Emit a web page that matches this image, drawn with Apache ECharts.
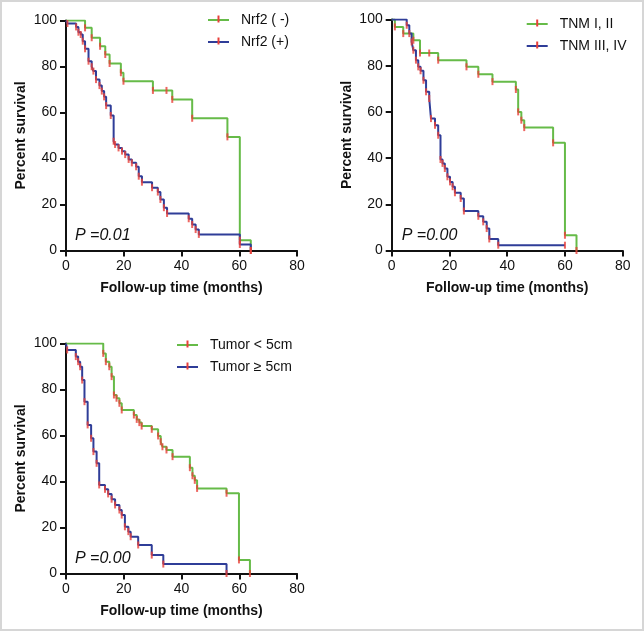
<!DOCTYPE html>
<html><head><meta charset="utf-8">
<script src="https://cdn.jsdelivr.net/npm/echarts@6/dist/echarts.min.js"></script>
<style>html,body{margin:0;padding:0;background:#fff}#c{width:644px;height:631px}</style>
</head><body><div id="c"></div>
<script>
// ---- data (months, percent survival after each step) ----
const xTicks = [0, 20, 40, 60, 80];
const yTicks = [0, 20, 40, 60, 80, 100];
const seriesNames = ['Nrf2 ( -)', 'Nrf2 (+)', 'TNM I, II', 'TNM III, IV', 'Tumor < 5cm', 'Tumor \u2265 5cm'];
const pValues = ['P =0.01', 'P =0.00', 'P =0.00'];
const xTitle = 'Follow-up time (months)';
const yTitle = 'Percent survival';

const nrf2NegTimes = [6.6, 8.9, 11.8, 13.6, 15.1, 19.0, 19.9, 30.1, 36.8, 43.7, 55.9, 60.2, 64.0];
const nrf2NegSurv  = [96.8, 92.5, 88.8, 85.2, 81.3, 77.3, 73.6, 69.6, 65.7, 57.5, 49.4, 4.5, 0];
const nrf2NegCens  = [34.8];

const nrf2PosTimes = [0.5, 3.5, 4.3, 5.1, 5.8, 6.6, 7.8, 8.9, 9.5, 10.4, 11.6, 12.4, 13.2, 13.9, 15.5, 16.5, 17.0, 18.2, 19.4, 20.5, 21.7, 22.8, 24.3, 25.2, 26.3, 29.8, 31.8, 32.7, 33.9, 35.0, 42.5, 43.7, 44.9, 46.0, 60.2, 64.0];
const nrf2PosSurv  = [98.7, 97.2, 94.9, 93.9, 91.0, 87.7, 82.3, 79.9, 78.0, 74.3, 71.7, 69.3, 66.8, 63.0, 58.7, 47.5, 46.1, 44.6, 43.2, 41.7, 39.6, 38.1, 36.4, 32.3, 29.7, 27.3, 25.4, 22.2, 18.6, 16.1, 13.8, 11.3, 9.1, 7.0, 2.6, 0];
const nrf2PosCens  = [];

const tnmEarlyTimes = [1.1, 4.0, 7.5, 9.8, 16.1, 25.9, 30.0, 34.9, 43.0, 43.8, 44.9, 45.9, 55.9, 60.0, 64.0];
const tnmEarlySurv  = [96.8, 93.9, 91.0, 85.5, 82.4, 79.5, 76.3, 73.1, 69.7, 60.0, 56.4, 53.2, 46.6, 6.6, 0];
const tnmEarlyCens  = [13.0];

const tnmLateTimes = [5.2, 6.1, 6.9, 7.5, 8.4, 9.2, 10.0, 11.0, 11.9, 13.0, 13.6, 15.0, 16.1, 16.9, 17.6, 18.4, 19.3, 20.2, 21.1, 21.9, 23.9, 25.0, 30.0, 31.7, 32.9, 33.8, 36.9, 60.0];
const tnmLateSurv  = [97.5, 93.9, 90.3, 86.7, 82.4, 79.5, 77.8, 73.7, 68.7, 65.8, 57.1, 54.2, 49.9, 39.4, 37.7, 35.5, 31.9, 29.7, 27.6, 25.0, 22.5, 17.1, 14.8, 12.4, 9.5, 5.0, 2.3, 2.3];
const tnmLateCens  = [];

const tumorSmallTimes = [12.9, 13.8, 15.0, 15.8, 16.6, 17.5, 18.5, 19.3, 23.5, 24.5, 25.4, 26.2, 29.7, 31.9, 32.8, 33.4, 34.8, 36.9, 42.9, 43.8, 44.6, 45.4, 55.6, 59.9, 63.7];
const tumorSmallSurv  = [95.7, 92.1, 89.9, 85.6, 77.6, 76.2, 74.0, 71.1, 68.9, 67.0, 65.6, 64.1, 62.7, 59.8, 57.3, 55.1, 53.7, 50.8, 46.0, 42.5, 40.5, 37.0, 34.9, 5.9, 0];
const tumorSmallCens  = [];

const tumorLargeTimes = [0.4, 3.4, 4.2, 4.9, 5.6, 6.4, 7.5, 8.7, 9.5, 10.6, 11.5, 13.5, 14.6, 15.8, 17.0, 18.5, 19.3, 20.4, 21.6, 22.4, 25.0, 29.7, 33.7, 55.6];
const tumorLargeSurv  = [97.2, 94.3, 92.1, 89.9, 84.1, 74.7, 64.6, 58.8, 53.0, 47.9, 38.5, 36.6, 34.6, 32.3, 29.8, 27.6, 25.4, 20.3, 18.2, 16.0, 12.4, 8.0, 4.1, 0];
const tumorLargeCens  = [];

// ---- styling ----
const GREEN = '#66bb48', BLUE = '#2f3d98', RED = '#e8403a';
const FONT = 'Liberation Sans, Arial, Helvetica, sans-serif';

const curves = [
  {name: seriesNames[0], t: nrf2NegTimes, s: nrf2NegSurv, c: nrf2NegCens, color: GREEN, grid: 0},
  {name: seriesNames[1], t: nrf2PosTimes, s: nrf2PosSurv, c: nrf2PosCens, color: BLUE, grid: 0},
  {name: seriesNames[2], t: tnmEarlyTimes, s: tnmEarlySurv, c: tnmEarlyCens, color: GREEN, grid: 1},
  {name: seriesNames[3], t: tnmLateTimes, s: tnmLateSurv, c: tnmLateCens, color: BLUE, grid: 1},
  {name: seriesNames[4], t: tumorSmallTimes, s: tumorSmallSurv, c: tumorSmallCens, color: GREEN, grid: 2},
  {name: seriesNames[5], t: tumorLargeTimes, s: tumorLargeSurv, c: tumorLargeCens, color: BLUE, grid: 2}
];

function levelAt(times, surv, t) {
  let v = 100;
  for (let i = 0; i < times.length; i++) if (times[i] <= t) v = surv[i];
  return v;
}

const grids = [
  {left: 66, top: 20.5, width: 231, height: 230},
  {left: 391.7, top: 19.5, width: 231, height: 231},
  {left: 66, top: 343.5, width: 231, height: 230}
];

const axisCommon = {
  axisLine: {show: true, onZero: false, lineStyle: {color: '#111', width: 2}},
  axisTick: {show: true, length: 6, lineStyle: {color: '#111', width: 2}},
  axisLabel: {color: '#111', fontSize: 14, fontFamily: FONT, margin: 9},
  splitLine: {show: false}
};

const xAxes = grids.map((g, i) => Object.assign({}, axisCommon, {
  type: 'value', gridIndex: i, min: xTicks[0], max: xTicks[xTicks.length - 1],
  interval: xTicks[1] - xTicks[0],
  name: xTitle, nameLocation: 'middle', nameGap: 31,
  nameTextStyle: {color: '#111', fontSize: 14, fontWeight: 'bold', fontFamily: FONT}
}));
const yAxes = grids.map((g, i) => Object.assign({}, axisCommon, {
  type: 'value', gridIndex: i, min: yTicks[0], max: yTicks[yTicks.length - 1],
  interval: yTicks[1] - yTicks[0],
  name: yTitle, nameLocation: 'middle', nameGap: 38,
  nameTextStyle: {color: '#111', fontSize: 14, fontWeight: 'bold', fontFamily: FONT}
}));

const series = [];
curves.forEach(cv => {
  const pts = [[0, 100]].concat(cv.t.map((t, i) => [t, cv.s[i]]));
  series.push({
    name: cv.name, type: 'line', step: 'end', xAxisIndex: cv.grid, yAxisIndex: cv.grid,
    data: pts, showSymbol: false, symbol: 'none', animation: false,
    lineStyle: {color: cv.color, width: 2}, itemStyle: {color: cv.color}, z: 3
  });
});
curves.forEach(cv => {
  const ticks = cv.t.map((t, i) => [t, cv.s[i]]).concat(cv.c.map(t => [t, levelAt(cv.t, cv.s, t)]));
  series.push({
    name: cv.name + ' censored', type: 'scatter', xAxisIndex: cv.grid, yAxisIndex: cv.grid,
    data: ticks, symbol: 'rect', symbolSize: [2, 7], animation: false,
    itemStyle: {color: RED}, z: 4, silent: true
  });
});

const legendPos = [
  {left: 208, top: 11.5},
  {left: 526.7, top: 15.5},
  {left: 177, top: 336.5}
];
const ROW = 17, GAP = 5;
const legends = legendPos.map((p, i) => ({
  left: p.left, top: p.top, orient: 'vertical', itemGap: GAP, padding: 0,
  itemWidth: 21, itemHeight: 2, icon: 'rect', selectedMode: false,
  data: [seriesNames[2 * i], seriesNames[2 * i + 1]],
  textStyle: {color: '#111', fontSize: 14, fontFamily: FONT, lineHeight: ROW, padding: [0, 0, 0, 7]}
}));

const graphic = [
  {type: 'rect', shape: {x: 1, y: 1, width: 642, height: 629}, style: {fill: 'none', stroke: '#d6d6d6', lineWidth: 2}, silent: true}
];
// red ticks on legend lines
legendPos.forEach(p => {
  [0, 1].forEach(k => {
    graphic.push({type: 'rect', shape: {x: p.left + 9.5, y: p.top + ROW / 2 + k * (ROW + GAP) - 4.5, width: 2, height: 7}, style: {fill: RED}, silent: true, z: 10});
  });
});
// P values
const pPos = [[75, 236], [401.7, 236], [75, 559]];
pPos.forEach((p, i) => {
  graphic.push({type: 'text', x: p[0], y: p[1], style: {text: pValues[i], fill: '#111', font: 'italic 16px ' + FONT, textVerticalAlign: 'middle'}, silent: true});
});

const chart = echarts.init(document.getElementById('c'), null, {renderer: 'canvas'});
chart.setOption({
  backgroundColor: '#fff',
  animation: false,
  grid: grids,
  xAxis: xAxes,
  yAxis: yAxes,
  legend: legends,
  series: series,
  graphic: graphic
});
</script></body></html>
